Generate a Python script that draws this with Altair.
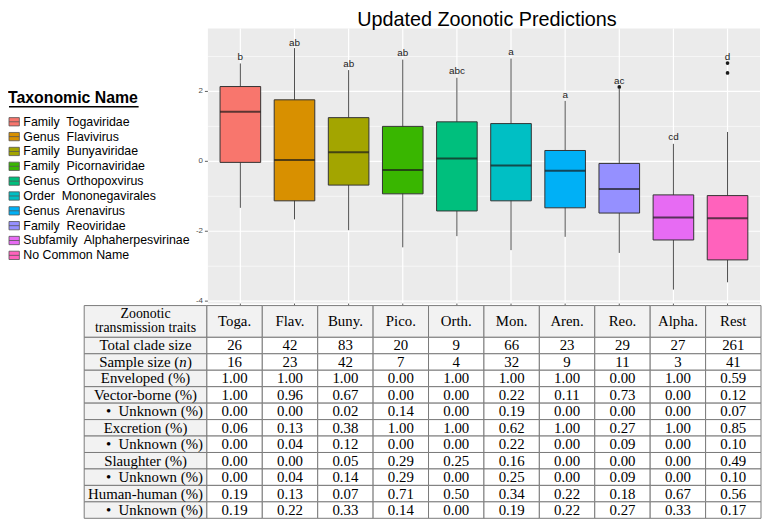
import altair as alt
import pandas as pd

# ---------------- data ----------------
taxa = ["Family\u00a0 Togaviridae", "Genus\u00a0 Flavivirus", "Family\u00a0 Bunyaviridae",
        "Family\u00a0 Picornaviridae", "Genus\u00a0 Orthopoxvirus", "Order\u00a0 Mononegavirales",
        "Genus\u00a0 Arenavirus", "Family\u00a0 Reoviridae", "Subfamily\u00a0 Alphaherpesvirinae",
        "No Common Name"]
colors = ["#F8766D", "#D89000", "#A3A500", "#39B600", "#00BF7D",
          "#00BFC4", "#00B0F6", "#9590FF", "#E76BF3", "#FF62BC"]

whisk_lo = [-1.33, -1.66, -1.97, -2.46, -2.14, -2.54, -2.16, -2.62, -3.67, -3.46]
q1       = [-0.03, -1.13, -0.68, -0.93, -1.42, -1.13, -1.33, -1.48, -2.25, -2.82]
median   = [1.42, 0.04, 0.26, -0.25, 0.08, -0.12, -0.27, -0.79, -1.61, -1.63]
q3       = [2.14, 1.76, 1.25, 1.00, 1.13, 1.08, 0.31, -0.06, -0.96, -0.98]
whisk_hi = [2.80, 3.24, 2.61, 2.91, 2.39, 2.94, 1.73, 2.08, 0.50, 0.84]

letters   = ["b", "ab", "ab", "ab", "abc", "a", "a", "ac", "cd", "d"]
letter_y  = [2.91, 3.31, 2.69, 3.00, 2.49, 3.03, 1.82, 2.21, 0.60, 2.91]

outlier_taxon = [taxa[7], taxa[9], taxa[9]]
outlier_value = [2.13, 2.81, 2.53]

y_major = [-4, -2, 0, 2]
y_minor = [-3, -1, 1, 3]

title_text = "Updated Zoonotic Predictions"
legend_title = "Taxonomic Name"

header_label = "Zoonotic\ntransmission traits"
short_names = ["Toga.", "Flav.", "Buny.", "Pico.", "Orth.", "Mon.", "Aren.", "Reo.", "Alpha.", "Rest"]
row_labels = ["Total clade size", "Sample size (n)", "Enveloped (%)", "Vector-borne (%)",
              "\u2022\u00a0\u00a0Unknown (%)", "Excretion (%)", "\u2022\u00a0\u00a0Unknown (%)",
              "Slaughter (%)", "\u2022\u00a0\u00a0Unknown (%)", "Human-human (%)",
              "\u2022\u00a0\u00a0Unknown (%)"]
total_clade = [26, 42, 83, 20, 9, 66, 23, 29, 27, 261]
sample_size = [16, 23, 42, 7, 4, 32, 9, 11, 3, 41]
enveloped   = [1.00, 1.00, 1.00, 0.00, 1.00, 1.00, 1.00, 0.00, 1.00, 0.59]
vector      = [1.00, 0.96, 0.67, 0.00, 0.00, 0.22, 0.11, 0.73, 0.00, 0.12]
vector_unk  = [0.00, 0.00, 0.02, 0.14, 0.00, 0.19, 0.00, 0.00, 0.00, 0.07]
excretion   = [0.06, 0.13, 0.38, 1.00, 1.00, 0.62, 1.00, 0.27, 1.00, 0.85]
excr_unk    = [0.00, 0.04, 0.12, 0.00, 0.00, 0.22, 0.00, 0.09, 0.00, 0.10]
slaughter   = [0.00, 0.00, 0.05, 0.29, 0.25, 0.16, 0.00, 0.00, 0.00, 0.49]
slaug_unk   = [0.00, 0.04, 0.14, 0.29, 0.00, 0.25, 0.00, 0.09, 0.00, 0.10]
human       = [0.19, 0.13, 0.07, 0.71, 0.50, 0.34, 0.22, 0.18, 0.67, 0.56]
human_unk   = [0.19, 0.22, 0.33, 0.14, 0.00, 0.19, 0.22, 0.27, 0.33, 0.17]
row_values = [total_clade, sample_size, enveloped, vector, vector_unk, excretion,
              excr_unk, slaughter, slaug_unk, human, human_unk]

# ---------------- layout constants ----------------
PANEL_L, PANEL_R, PANEL_T, PANEL_B = 202, 760, 18, 296
LABEL_UNITS = 2.214
HEADER_UNITS = 1.93
SANS = "Liberation Sans"
SERIF = "Liberation Serif"

xs = alt.Scale(domain=taxa, range=[PANEL_L, PANEL_R], paddingInner=0.25, paddingOuter=0.225)
ys = alt.Scale(domain=[-4.07, 3.8], range=[PANEL_B, PANEL_T], nice=False, zero=False)

box_df = pd.DataFrame({"taxon": taxa, "lo": whisk_lo, "q1": q1, "med": median,
                       "q3": q3, "hi": whisk_hi, "lab": letters, "laby": letter_y})
out_df = pd.DataFrame({"taxon": outlier_taxon, "v": outlier_value})
major_df = pd.DataFrame({"v": y_major, "lab": [str(v) for v in y_major]})
minor_df = pd.DataFrame({"v": y_minor})

X = alt.X("taxon:N", scale=xs, axis=None)

bg = alt.Chart(pd.DataFrame({"a": [0]})).mark_rect(color="#EBEBEB").encode(
    x=alt.value(PANEL_L), x2=alt.value(PANEL_R), y=alt.value(PANEL_T), y2=alt.value(PANEL_B))
grid_minor = alt.Chart(minor_df).mark_rule(color="white", strokeWidth=0.6).encode(
    y=alt.Y("v:Q", scale=ys, axis=None), x=alt.value(PANEL_L), x2=alt.value(PANEL_R))
grid_major = alt.Chart(major_df).mark_rule(color="white", strokeWidth=1.2).encode(
    y=alt.Y("v:Q", scale=ys, axis=None), x=alt.value(PANEL_L), x2=alt.value(PANEL_R))
grid_vert = alt.Chart(box_df).mark_rule(color="white", strokeWidth=1.2).encode(
    x=X, y=alt.value(PANEL_T), y2=alt.value(PANEL_B))
ytick_lab = alt.Chart(major_df).mark_text(align="right", baseline="middle", font=SANS,
                                          fontSize=8, color="#4D4D4D").encode(
    y=alt.Y("v:Q", scale=ys, axis=None), x=alt.value(PANEL_L - 5), text="lab:N")
ytick = alt.Chart(major_df).mark_rule(color="#333333", strokeWidth=0.8).encode(
    y=alt.Y("v:Q", scale=ys, axis=None), x=alt.value(PANEL_L - 3), x2=alt.value(PANEL_L))
xtick = alt.Chart(box_df).mark_rule(color="#333333", strokeWidth=0.8).encode(
    x=X, y=alt.value(PANEL_B), y2=alt.value(PANEL_B + 3))

whisk = alt.Chart(box_df).mark_rule(color="#4D4D4D", strokeWidth=1).encode(
    x=X, y=alt.Y("lo:Q", scale=ys, axis=None), y2="hi:Q")
boxes = alt.Chart(box_df).mark_bar(stroke="#333333", strokeWidth=1, opacity=1).encode(
    x=X, y=alt.Y("q1:Q", scale=ys, axis=None), y2="q3:Q",
    color=alt.Color("taxon:N", scale=alt.Scale(domain=taxa, range=colors),
                    legend=alt.Legend(
                        title=legend_title, orient="none", legendX=0, legendY=80,
                        titleFont=SANS, titleFontSize=16, titleFontWeight="bold", titleColor="black",
                        titlePadding=10,
                        labelFont=SANS, labelFontSize=12.5, labelColor="black", labelLimit=260,
                        labelOffset=3,
                        symbolType="M-1,-0.8H1V0.8H-1Z M-1,0H1",
                        symbolSize=110, symbolStrokeColor="#555555", symbolStrokeWidth=0.8,
                        symbolOpacity=1, rowPadding=2)))
med = alt.Chart(box_df).mark_tick(color="#1A1A1A", thickness=2, size=41).encode(
    x=X, y=alt.Y("med:Q", scale=ys, axis=None))
outl = alt.Chart(out_df).mark_circle(color="#1A1A1A", size=14, opacity=1).encode(
    x=X, y=alt.Y("v:Q", scale=ys, axis=None))
lets = alt.Chart(box_df).mark_text(font=SANS, fontSize=10, color="#222222",
                                   baseline="alphabetic").encode(
    x=X, y=alt.Y("laby:Q", scale=ys, axis=None), text="lab:N")

title = alt.Chart(pd.DataFrame({"t": [title_text]})).mark_text(
    font=SANS, fontSize=20, color="black", baseline="alphabetic").encode(
    x=alt.value(484), y=alt.value(15), text="t:N")
underline = alt.Chart(pd.DataFrame({"a": [0]})).mark_rule(color="black", strokeWidth=1.5).encode(
    x=alt.value(1), x2=alt.value(132), y=alt.value(97))

plot = alt.layer(bg, grid_minor, grid_major, grid_vert, ytick, ytick_lab, xtick,
                 whisk, boxes, med, outl, lets, title, underline)

# ---------------- table ----------------
def col_span(c):
    if c < 0:
        return 0.0, LABEL_UNITS
    return LABEL_UNITS + c, LABEL_UNITS + c + 1


def row_span(r):
    if r < 0:
        return 0.0, HEADER_UNITS
    return HEADER_UNITS + r, HEADER_UNITS + r + 1


cells = []
for r in range(-1, len(row_labels)):
    for c in range(-1, len(short_names)):
        x0, x1 = col_span(c)
        y0, y1 = row_span(r)
        kind = "plain"
        if r < 0:
            txt = header_label if c < 0 else short_names[c]
            fill = "#F2F2F2"
            if c < 0:
                kind = "multi"
        elif c < 0:
            txt = row_labels[r]
            fill = "#F2F2F2"
            if txt.startswith("\u2022"):
                kind = "bullet"
            elif txt == "Sample size (n)":
                kind = "sample"
        else:
            v = row_values[r][c]
            txt = str(v) if r < 2 else f"{v:.2f}"
            fill = "white"
        cells.append({"x0": x0, "x1": x1, "y0": y0, "y1": y1,
                      "xc": (x0 + x1) / 2, "yc": (y0 + y1) / 2,
                      "txt": txt, "fill": fill, "kind": kind})
cell_df = pd.DataFrame(cells)

tx = alt.Scale(domain=[0, LABEL_UNITS + len(short_names)], range=[77, 761], nice=False, zero=False)
ty = alt.Scale(domain=[0, HEADER_UNITS + len(row_labels)], range=[298, 513], nice=False, zero=False)
TX = alt.X("xc:Q", scale=tx, axis=None)
TY = alt.Y("yc:Q", scale=ty, axis=None)

rects = alt.Chart(cell_df).mark_rect(stroke="#7A7A7A", strokeWidth=1).encode(
    x=alt.X("x0:Q", scale=tx, axis=None), x2="x1:Q",
    y=alt.Y("y0:Q", scale=ty, axis=None), y2="y1:Q",
    color=alt.Color("fill:N", scale=None))

txt_kw = dict(font=SERIF, color="black", baseline="middle")
plain = alt.Chart(cell_df).transform_filter("datum.kind == 'plain'").mark_text(
    fontSize=15, **txt_kw).encode(x=TX, y=TY, text="txt:N")
multi = alt.Chart(cell_df).transform_filter("datum.kind == 'multi'").mark_text(
    fontSize=14, lineBreak="\n", lineHeight=14, dy=-7, **txt_kw).encode(x=TX, y=TY, text="txt:N")
bullet = alt.Chart(cell_df).transform_filter("datum.kind == 'bullet'").mark_text(
    fontSize=15, dx=9, **txt_kw).encode(x=TX, y=TY, text="txt:N")
samp = cell_df[cell_df["kind"] == "sample"]
s1 = alt.Chart(samp).transform_calculate(t="'Sample size ('").mark_text(
    fontSize=15, align="right", dx=34, **txt_kw).encode(x=TX, y=TY, text="t:N")
s2 = alt.Chart(samp).transform_calculate(t="'n'").mark_text(
    fontSize=15, align="left", dx=34, fontStyle="italic", **txt_kw).encode(x=TX, y=TY, text="t:N")
s3 = alt.Chart(samp).transform_calculate(t="')'").mark_text(
    fontSize=15, align="left", dx=42, **txt_kw).encode(x=TX, y=TY, text="t:N")

table = alt.layer(rects, plain, multi, bullet, s1, s2, s3)

chart = alt.layer(plot, table).resolve_scale(
    x="independent", y="independent", color="independent"
).properties(
    width=762, height=514, autosize=alt.AutoSizeParams(type="none"), padding=0,
    background="white"
).configure_view(stroke=None)

chart.save("out.html", embed_options={"renderer": "svg", "actions": False})
